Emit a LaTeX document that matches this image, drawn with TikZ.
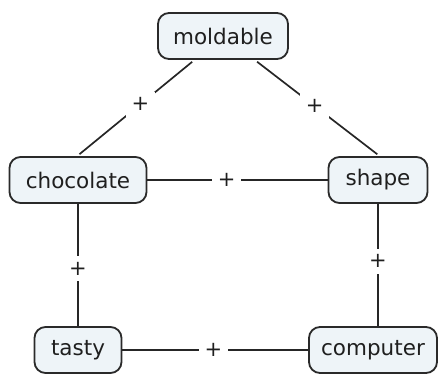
\documentclass[tikz,border=0pt]{standalone}
\usepackage{fontspec}
\setmainfont{DejaVu Sans}
\definecolor{boxfill}{HTML}{EEF4F8}
\definecolor{boxline}{HTML}{2A2A2A}
\begin{document}
\begin{tikzpicture}[x=1pt,y=-1pt,
  concept/.style={draw=boxline,line width=1.8pt,fill=boxfill,rounded corners=11pt,
    minimum height=46pt,inner xsep=0pt,font=\fontsize{21.5}{24}\selectfont,text=black!88},
  link/.style={draw=black!85,line width=1.7pt,shorten <=3pt,shorten >=3pt},
  plus/.style={fill=white,inner sep=6pt,font=\fontsize{21}{24}\selectfont,text=black!88}]
\useasboundingbox (0,0) rectangle (440,375);
\node[concept,minimum width=130pt] (moldable) at (223,36) {moldable};
\node[concept,minimum width=137pt] (chocolate) at (78,180) {chocolate};
\node[concept,minimum width=99pt] (shape) at (378,180) {shape};
\node[concept,minimum width=87pt] (tasty) at (78,350) {tasty};
\node[concept,minimum width=128pt] (computer) at (373,350) {computer};
\draw[link] (moldable.220.2) -- node[plus,pos=0.46] {+} (chocolate.92);
\draw[link] (moldable.-37.7) -- node[plus,pos=0.48] {+} (shape.86);
\draw[link,shorten <=0pt,shorten >=0pt] (chocolate) -- node[plus,pos=0.44] {+} (shape);
\draw[link,shorten <=0pt,shorten >=0pt] (chocolate) -- node[plus,pos=0.53] {+} (tasty);
\draw[link,shorten <=0pt,shorten >=0pt] (shape) -- node[plus,pos=0.47] {+} (shape |- computer.north);
\draw[link,shorten <=0pt,shorten >=0pt] (tasty) -- node[plus,pos=0.49] {+} (computer);
\end{tikzpicture}
\end{document}
